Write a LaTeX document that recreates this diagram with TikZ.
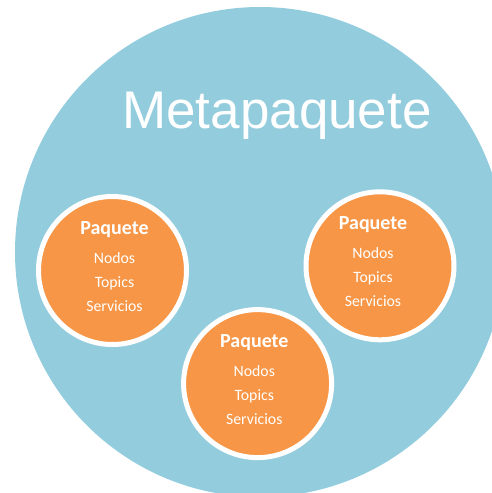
\documentclass[tikz,border=0pt]{standalone}
\usepackage{fontspec}
\setmainfont{Carlito}
\newfontfamily\arialfont{Liberation Sans}
\definecolor{metablue}{RGB}{147,205,221}
\definecolor{pkgorange}{RGB}{247,150,70}
\begin{document}
\begin{tikzpicture}[x=1pt,y=-1pt,
  pkg/.style={circle,fill=pkgorange,draw=white,line width=5pt,minimum size=148pt,inner sep=0pt},
  pkgtitle/.style={anchor=base,text=white,font=\fontsize{20}{24}\selectfont\bfseries,inner sep=0pt},
  pkgitem/.style={anchor=base,text=white,font=\fontsize{15.8}{19}\selectfont,inner sep=0pt}]
\useasboundingbox (0,0) rectangle (492,493);
\clip (0,0) rectangle (492,493);
\fill[metablue] (260,252) circle[radius=245];
\node[anchor=base,text=white,inner sep=0pt,font=\arialfont\fontsize{53}{60}\selectfont] (meta) at (277,128) {Metapaquete};
\foreach \n/\cx/\cy/\tx in {L/112.5/270.5/114.5, R/380/265.8/373, B/257.6/383.6/254.3}{
  \node[pkg] (\n) at (\cx,\cy) {};
  \node[pkgtitle] (\n t) at (\tx,\cy-36) {Paquete};
  \node[pkgitem] (\n a) at (\tx,\cy-7.5) {Nodos};
  \node[pkgitem] (\n b) at (\tx,\cy+16.5) {Topics};
  \node[pkgitem] (\n c) at (\tx,\cy+40.5) {Servicios};
}
\end{tikzpicture}
\end{document}
